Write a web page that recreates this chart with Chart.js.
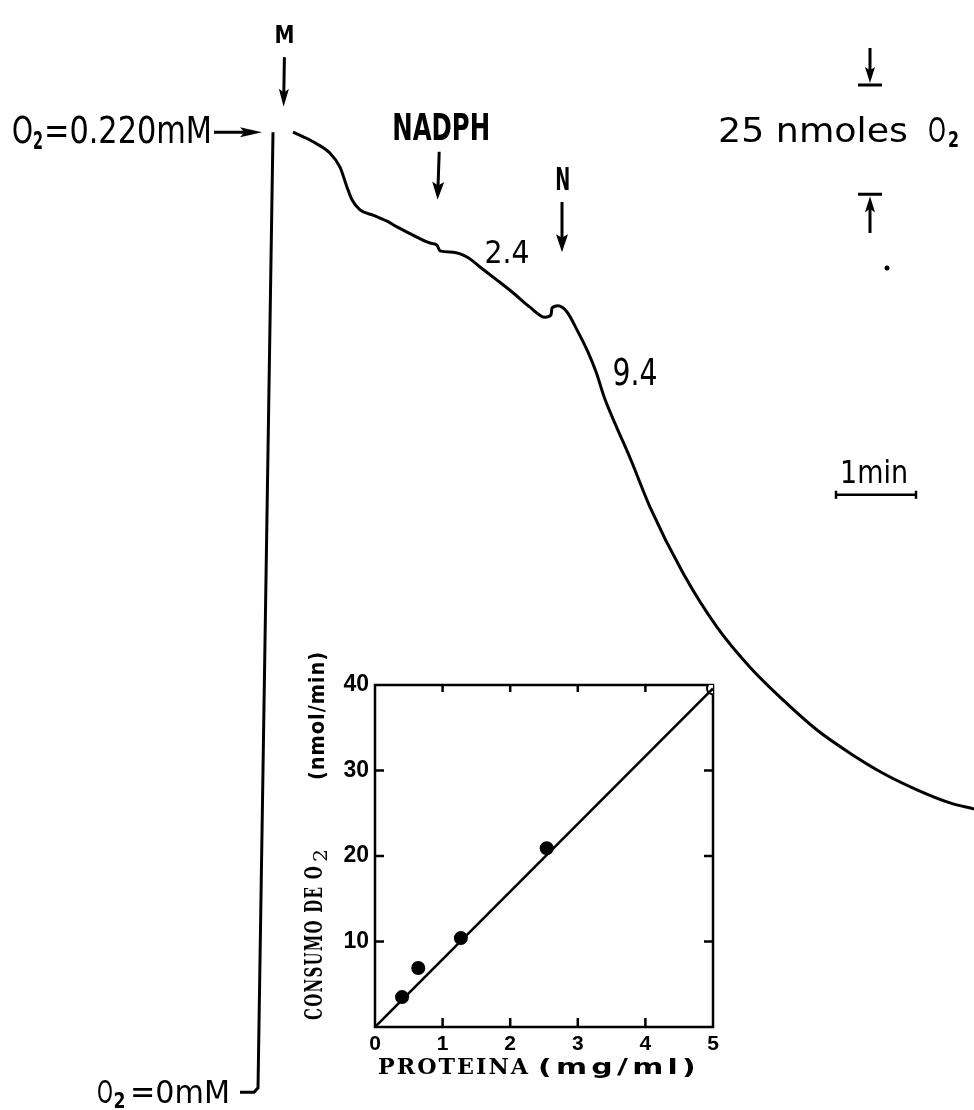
<!DOCTYPE html>
<html>
<head>
<meta charset="utf-8">
<script src="https://cdn.jsdelivr.net/npm/chart.js@4.4.1/dist/chart.umd.min.js"></script>
<style>
  body { margin: 0; background: #fff; }
  #wrap { position: relative; width: 974px; height: 1110px; background: #fff; }
  #main { position: absolute; left: 0; top: 0; width: 974px; height: 1110px; }
  #inset { position: absolute; left: 280px; top: 640px; width: 460px; height: 450px; }
</style>
</head>
<body>
<div id="wrap">
  <div id="main"><canvas id="trace"></canvas></div>
  <div id="inset"><canvas id="rate"></canvas></div>
</div>
<script>
// oxygraph trace: time after M addition (min) vs O2 in the cell (mM)
const traceTime = [0.2625, 0.5125, 0.725, 0.85, 0.9375, 1.0, 1.1, 1.2625, 1.4375, 1.5625,
  1.7625, 1.975, 2.0625, 2.1, 2.2625, 2.4375, 2.6, 2.8125, 3.0125, 3.225,
  3.4125, 3.4875, 3.5, 3.575, 3.6875, 3.8125, 3.95, 4.05, 4.16, 4.3125,
  4.475, 4.725, 5.1375, 5.5625, 5.975, 6.3875, 6.8125, 7.225, 7.6375, 8.0625,
  8.475, 8.775];
const traceO2 = [0.2195, 0.2173, 0.2147, 0.2115, 0.2069, 0.2040, 0.2017, 0.2005, 0.1991, 0.1978,
  0.1959, 0.1941, 0.1936, 0.1923, 0.1920, 0.1909, 0.1886, 0.1856, 0.1827, 0.1794,
  0.1771, 0.1776, 0.1792, 0.1797, 0.1783, 0.1742, 0.1691, 0.1646, 0.1584, 0.1517,
  0.1449, 0.1336, 0.1185, 0.1061, 0.0969, 0.0894, 0.0825, 0.0772, 0.0726, 0.0688,
  0.0658, 0.0644];
// calibration swing 0 -> 0.220 mM
const calibTime = [-0.4, -0.225, -0.175, 0.0125];
const calibO2 = [-0.0005, -0.0005, 0.0005, 0.2195];

// additions and rates (nmol O2/min)
const additions = ['M', 'NADPH', 'N'];
const additionTimes = [0.145, 2.08, 3.625];
const rates = ['2.4', '9.4'];

// inset: protein (mg/ml) vs O2 consumption (nmol/min)
const protein = [0.40, 0.64, 1.27, 2.54, 5.0];
const consumption = [3.5, 6.9, 10.4, 20.9, 39.6];
const fitProtein = [0, 5];
const fitConsumption = [0, 39.6];
const xTicks = [0, 1, 2, 3, 4, 5];
const yTicks = [10, 20, 30, 40];

const toXY = (xs, ys) => xs.map((v, i) => ({ x: v, y: ys[i] }));

const SANS = '"DejaVu Sans", "Liberation Sans", sans-serif';
const SERIF = '"DejaVu Serif", "Liberation Serif", serif';

// draw text squeezed/stretched to a given width
function fitText(ctx, str, x, y, size, width, weight, family, align, spacing) {
  ctx.save();
  ctx.font = `${weight || 'normal'} ${size}px ${family || SANS}`;
  ctx.letterSpacing = spacing || '0px';
  const w = ctx.measureText(str).width;
  const x0 = align === 'center' ? -width / 2 : align === 'right' ? -width : 0;
  ctx.translate(x, y);
  ctx.translate(x0, 0);
  ctx.scale(width / w, 1);
  ctx.textAlign = 'left';
  ctx.textBaseline = 'alphabetic';
  ctx.fillText(str, 0, 0);
  ctx.restore();
}

function arrow(ctx, x1, y1, x2, y2, lw, head, half) {
  const a = Math.atan2(y2 - y1, x2 - x1);
  const c = Math.cos(a), s = Math.sin(a);
  ctx.lineWidth = lw;
  ctx.beginPath();
  ctx.moveTo(x1, y1);
  ctx.lineTo(x2 - head * 0.7 * c, y2 - head * 0.7 * s);
  ctx.stroke();
  ctx.beginPath();
  ctx.moveTo(x2, y2);
  ctx.lineTo(x2 - head * c + half * s, y2 - head * s - half * c);
  ctx.lineTo(x2 - head * 0.8 * c, y2 - head * 0.8 * s);
  ctx.lineTo(x2 - head * c - half * s, y2 - head * s + half * c);
  ctx.closePath();
  ctx.fill();
}

const notesPlugin = {
  id: 'notes',
  afterDatasetsDraw(chart) {
    const { ctx, scales: { x, y } } = chart;
    const X = v => x.getPixelForValue(v);
    const Y = v => y.getPixelForValue(v);
    ctx.save();
    ctx.fillStyle = '#000';
    ctx.strokeStyle = '#000';

    // additions
    const [tM, tNadph, tN] = additionTimes;
    fitText(ctx, additions[0], X(tM + 0.01), Y(0.2399), 25, 20, 'bold', null, 'center');
    arrow(ctx, X(tM + 0.01), Y(0.2367), X(tM), Y(0.2253), 3, 18, 5);
    fitText(ctx, additions[1], X(tNadph + 0.035), Y(0.2177), 37, 98, 'bold', null, 'center');
    arrow(ctx, X(tNadph + 0.01), Y(0.2150), X(tNadph - 0.01), Y(0.2040), 3, 18, 6);
    fitText(ctx, additions[2], X(tN + 0.01), Y(0.2063), 32, 15, 'bold', null, 'center');
    arrow(ctx, X(tN), Y(0.2035), X(tN), Y(0.1920), 3, 18, 6);

    // rates
    fitText(ctx, rates[0], X(2.9375), Y(0.1895), 32, 45, 'normal', null, 'center');
    fitText(ctx, rates[1], X(4.5375), Y(0.1616), 37, 45, 'normal', null, 'center');

    // O2 = 0.220 mM ->
    fitText(ctx, 'O', X(-3.25), Y(0.2170), 37, 21);
    fitText(ctx, '2', X(-2.9875), Y(0.2157), 24, 10, 'bold');
    fitText(ctx, '=0.220mM', X(-2.85), Y(0.2170), 37, 168);
    arrow(ctx, X(-0.725), Y(0.2195), X(-0.125), Y(0.2195), 3, 22, 5);

    // O2 = 0 mM
    fitText(ctx, 'O', X(-2.1875), Y(-0.0030), 32, 16);
    fitText(ctx, '2', X(-1.98), Y(-0.0042), 21, 12, 'bold');
    fitText(ctx, '=0mM', X(-1.775), Y(-0.0030), 32, 100);

    // 25 nmoles O2 scale bar (0.025 mM in 1 ml)
    const bx = X(7.475), top = Y(0.2303), bot = Y(0.2053);
    ctx.lineWidth = 3;
    ctx.beginPath();
    ctx.moveTo(bx - 12, top); ctx.lineTo(bx + 12, top);
    ctx.moveTo(bx - 12, bot); ctx.lineTo(bx + 12, bot);
    ctx.stroke();
    arrow(ctx, bx, Y(0.2388), bx, top - 2, 3, 16, 5);
    arrow(ctx, bx, Y(0.1964), bx, bot + 2, 3, 16, 5);
    fitText(ctx, '25 nmoles', X(5.575), Y(0.2172), 33, 190);
    fitText(ctx, 'O', X(8.2), Y(0.2172), 33, 18);
    fitText(ctx, '2', X(8.45), Y(0.2161), 21, 11, 'bold');
    ctx.beginPath();
    ctx.arc(X(7.6875), Y(0.1884), 2.5, 0, Math.PI * 2);
    ctx.fill();

    // 1 min time bar
    const x1 = X(7.05), x2 = X(8.05), yb = Y(0.1364);
    ctx.lineWidth = 2.5;
    ctx.beginPath();
    ctx.moveTo(x1, yb); ctx.lineTo(x2, yb);
    ctx.moveTo(x1, yb - 4); ctx.lineTo(x1, yb + 4);
    ctx.moveTo(x2, yb - 4); ctx.lineTo(x2, yb + 4);
    ctx.stroke();
    fitText(ctx, '1min', X(7.525), Y(0.1391), 32, 68, 'normal', null, 'center');
    ctx.restore();
  }
};

new Chart(document.getElementById('trace'), {
  type: 'line',
  data: {
    datasets: [
      { data: toXY(calibTime, calibO2), borderColor: '#000', borderWidth: 3, pointRadius: 0, tension: 0 },
      { data: toXY(traceTime, traceO2), borderColor: '#000', borderWidth: 3, pointRadius: 0, cubicInterpolationMode: 'monotone' },
    ],
  },
  options: {
    responsive: true,
    maintainAspectRatio: false,
    animation: false,
    layout: { padding: 0 },
    plugins: { legend: { display: false }, tooltip: { enabled: false } },
    scales: {
      x: { type: 'linear', display: false, min: -3.4, max: 8.775 },
      y: { type: 'linear', display: false, min: -0.00458, max: 0.24979 },
    },
  },
  plugins: [notesPlugin],
});

// inset frame with inward ticks and axis titles
const framePlugin = {
  id: 'frame',
  beforeDatasetsDraw(chart) {
    const { ctx, chartArea: a, scales: { x, y } } = chart;
    ctx.save();
    ctx.strokeStyle = '#000';
    ctx.lineWidth = 2.5;
    ctx.strokeRect(a.left, a.top, a.right - a.left, a.bottom - a.top);
    ctx.beginPath();
    xTicks.slice(1, -1).forEach(v => {
      const px = x.getPixelForValue(v);
      ctx.moveTo(px, a.bottom); ctx.lineTo(px, a.bottom - 9);
      ctx.moveTo(px, a.top); ctx.lineTo(px, a.top + 7);
    });
    yTicks.slice(0, -1).forEach(v => {
      const py = y.getPixelForValue(v);
      ctx.moveTo(a.left, py); ctx.lineTo(a.left + 9, py);
      ctx.moveTo(a.right, py); ctx.lineTo(a.right - 9, py);
    });
    ctx.stroke();
    ctx.restore();
  },
  afterDraw(chart) {
    const { ctx, chartArea: a } = chart;
    ctx.save();
    ctx.fillStyle = '#000';
    // y title, rotated
    ctx.save();
    ctx.translate(a.left - 53, a.bottom - 7);
    ctx.rotate(-Math.PI / 2);
    fitText(ctx, 'CONSUMO DE O', 0, 0, 24, 155, 'bold', SERIF, 'left', '2px');
    fitText(ctx, '2', 158, 5, 18, 13, 'normal', SERIF);
    fitText(ctx, '(nmol/min)', 240, 2, 22, 129, 'bold', SANS, 'left', '1px');
    ctx.restore();
    // x title
    fitText(ctx, 'PROTEINA', a.left + 3, a.bottom + 47, 22, 152, 'bold', SERIF, 'left', '2px');
    fitText(ctx, '(mg/ml)', a.left + 163, a.bottom + 47, 21, 162, 'bold', SANS, 'left', '3px');
    ctx.restore();
  },
};

const tickFont = { size: 23, weight: 'bold', family: '"Liberation Sans", Arial, sans-serif' };

new Chart(document.getElementById('rate'), {
  type: 'scatter',
  data: {
    datasets: [
      { type: 'line', data: toXY(fitProtein, fitConsumption), borderColor: '#000', borderWidth: 2.5, pointRadius: 0 },
      {
        data: toXY(protein, consumption),
        pointRadius: 6,
        pointBorderWidth: 2,
        pointBackgroundColor: c => (c.dataIndex === protein.length - 1 ? '#fff' : '#000'),
        pointBorderColor: '#000',
      },
    ],
  },
  options: {
    responsive: true,
    maintainAspectRatio: false,
    animation: false,
    layout: { padding: { top: 45, right: 27, left: 0, bottom: 0 } },
    plugins: { legend: { display: false }, tooltip: { enabled: false } },
    scales: {
      x: {
        type: 'linear', min: 0, max: 5,
        afterBuildTicks: s => { s.ticks = xTicks.map(v => ({ value: v })); },
        afterFit: s => { s.height = 63; },
        grid: { display: false, drawTicks: false },
        border: { display: false },
        ticks: { color: '#000', font: { ...tickFont, size: 21 }, padding: 5, maxRotation: 0 },
      },
      y: {
        type: 'linear', min: 0, max: 40,
        afterBuildTicks: s => { s.ticks = yTicks.map(v => ({ value: v })); },
        afterFit: s => { s.width = 95; },
        grid: { display: false, drawTicks: false },
        border: { display: false },
        ticks: { color: '#000', font: tickFont, padding: 6 },
      },
    },
  },
  plugins: [framePlugin],
});
</script>
</body>
</html>
